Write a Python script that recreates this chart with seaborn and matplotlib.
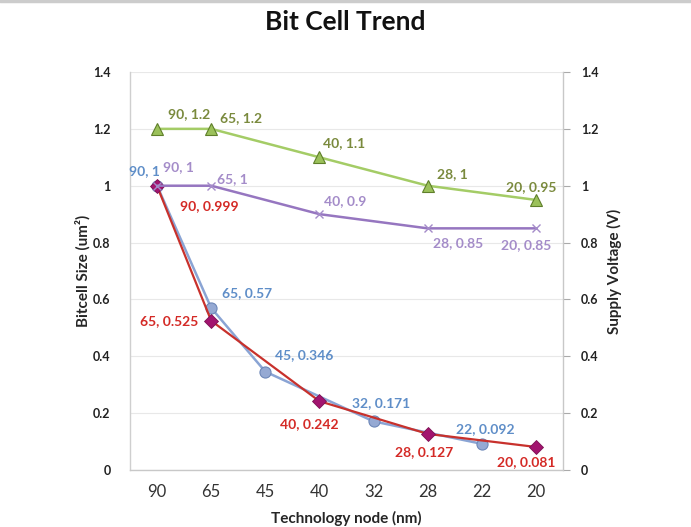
import matplotlib
matplotlib.use("Agg")
import matplotlib.pyplot as plt
import seaborn as sns
import pandas as pd
import numpy as np
from matplotlib.lines import Line2D

sns.set_theme(style="white")
plt.rcParams['font.family'] = ['Lato', 'DejaVu Sans']

categories = ["90", "65", "45", "40", "32", "28", "22", "20"]

blue_nodes = ["90", "65", "45", "32", "22"]
blue_vals = [1, 0.57, 0.346, 0.171, 0.092]

red_nodes = ["90", "65", "40", "28", "20"]
red_vals = [0.999, 0.525, 0.242, 0.127, 0.081]

green_nodes = ["90", "65", "40", "28", "20"]
green_vals = [1.2, 1.2, 1.1, 1, 0.95]

purple_nodes = ["90", "65", "40", "28", "20"]
purple_vals = [1, 1, 0.9, 0.85, 0.85]

yticks = [0, 0.2, 0.4, 0.6, 0.8, 1, 1.2, 1.4]
ytick_labels = ["0", "0.2", "0.4", "0.6", "0.8", "1", "1.2", "1.4"]

pos = {c: i for i, c in enumerate(categories)}

def frame(nodes, vals):
    return pd.DataFrame({"x": [pos[n] for n in nodes], "y": vals, "node": nodes})

blue = frame(blue_nodes, blue_vals)
red = frame(red_nodes, red_vals)
green = frame(green_nodes, green_vals)
purple = frame(purple_nodes, purple_vals)

fig = plt.figure(figsize=(6.91, 5.27), dpi=100)
ax = fig.add_axes([130/691, 1-470/527, 433/691, 398/527])
ax2 = ax.twinx()

# primary axis
sns.lineplot(data=blue, x="x", y="y", ax=ax, color="#8aa4d4", lw=1.8,
             marker="o", markersize=8, markerfacecolor="#95a9d3",
             markeredgecolor="#6d87b8", markeredgewidth=0.8, zorder=3)
sns.lineplot(data=red, x="x", y="y", ax=ax, color="#c8312c", lw=1.6,
             marker="D", markersize=7, markerfacecolor="#a2146f",
             markeredgecolor="#7c1054", markeredgewidth=0.6, zorder=4)

# secondary axis
sns.lineplot(data=green, x="x", y="y", ax=ax2, color="#a4cc66", lw=1.8,
             marker="^", markersize=9, markerfacecolor="#9bc15a",
             markeredgecolor="#5f7f2a", markeredgewidth=0.8, zorder=3)
sns.lineplot(data=purple, x="x", y="y", ax=ax2, color="#9676c0", lw=1.8,
             marker="x", markersize=6, markeredgecolor="#a48bc9",
             markeredgewidth=1.0, zorder=3)

for a in (ax, ax2):
    a.set_xlim(-0.5, len(categories) - 0.5)
    a.set_ylim(0, 1.4)
    a.set_yticks(yticks)
    a.set_xlabel("")
    a.set_ylabel("")

ax.set_yticklabels(ytick_labels, fontsize=9, fontweight="bold", color="#222222")
ax2.set_yticklabels(ytick_labels, fontsize=9, fontweight="bold", color="#222222")
ax.set_xticks(range(len(categories)))
ax.set_xticklabels(categories, fontsize=12, color="#333333")

ax.grid(axis="y", color="#e8e8e8", lw=0.8)
ax.set_axisbelow(True)
ax2.grid(False)

for s in ("top",):
    ax.spines[s].set_visible(False)
    ax2.spines[s].set_visible(False)
ax.spines["right"].set_visible(False)
ax2.spines["left"].set_visible(False)
ax2.spines["bottom"].set_visible(False)
ax.spines["left"].set_color("#cfcfcf")
ax.spines["bottom"].set_color("#c8c8c8")
ax2.spines["right"].set_color("#c8c8c8")
for sp in ax.spines.values():
    sp.set_linewidth(1.0)
ax2.spines["right"].set_linewidth(1.0)

ax.tick_params(axis="y", length=0, pad=14)
ax.tick_params(axis="x", length=0, pad=10)
ax2.tick_params(axis="y", direction="out", length=5, width=0.8, color="#aaaaaa", pad=8)

ax.set_ylabel("Bitcell Size (um²)", fontsize=11, fontweight="bold", labelpad=2)
ax2.set_ylabel("Supply Voltage (V)", fontsize=11, fontweight="bold", labelpad=6)
ax.set_xlabel("Technology node (nm)", fontsize=11, fontweight="bold", labelpad=8)

fig.text(0.5, 1-22/527, "Bit Cell Trend", ha="center", va="center",
         fontsize=19, fontweight="bold", color="#111111")

def label(a, df, offsets, color):
    for (_, r), (dx, dy) in zip(df.iterrows(), offsets):
        a.annotate(f"{r['node']}, {r['y']:g}", (r["x"], r["y"]),
                   xytext=(dx, dy), textcoords="offset pixels",
                   ha="center", va="center", fontsize=10,
                   fontweight="bold", color=color, zorder=6)

label(ax2, green, [(32, 15), (30, 11), (25, 14), (25, 12), (-5, 13)], "#7a8a3d")
label(ax2, purple, [(21, 19), (21, 7), (26, 13), (30, -15), (-10, -17)], "#a48cc9")
label(ax, blue, [(-13, 15), (36, 15), (39, 17), (8, 18), (4, 15)], "#5f8ec8")
label(ax, red, [(52, -20), (-42, 0), (-10, -23), (-4, -18), (-10, -15)], "#d42a26")

fig.add_artist(Line2D([0, 1], [1 - 1/527, 1 - 1/527], color="#cccccc", lw=2.5))

fig.savefig("out.png", dpi=100, facecolor="white")
